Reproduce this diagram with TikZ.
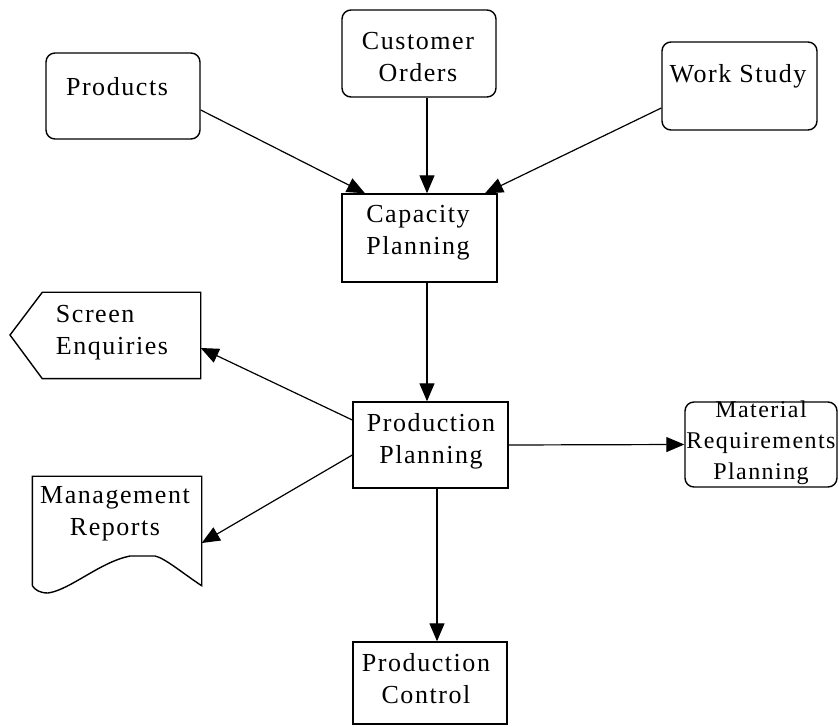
\documentclass[tikz,border=0pt]{standalone}
\usepackage{fontspec}
\setmainfont[LetterSpace=6]{Liberation Serif}
\usetikzlibrary{arrows.meta}
\begin{document}
\begin{tikzpicture}[x=1pt,y=-1pt,
  line width=1.4pt,
  txt/.style={font=\fontsize{26}{32}\selectfont, align=center, inner sep=0pt},
  rbox/.style={draw, rounded corners=9pt, inner sep=0pt},
  sbox/.style={draw, inner sep=0pt},
  arr/.style={-{Triangle[length=18pt,width=15pt]}, line width=1.2pt}]
\useasboundingbox (0,0) rectangle (839,727);
% boxes
\node[rbox, minimum width=154pt, minimum height=87pt] (co) at (419,53.5) {};
\node[txt] at (418,57) {Customer\\Orders};
\node[rbox, minimum width=154pt, minimum height=86pt] (prod) at (123,96) {};
\node[txt] at (117,87) {Products};
\node[rbox, minimum width=155pt, minimum height=88pt] (ws) at (739.5,86) {};
\node[txt] at (738,76) {Work Study};
\node[sbox, minimum width=155pt, minimum height=88pt] (cap) at (419.5,238) {};
\node[txt] at (418,233) {Capacity\\Planning};
\node[sbox, minimum width=155pt, minimum height=86pt] (pp) at (430.5,445) {};
\node[txt] at (431,441) {Production\\Planning};
\node[rbox, minimum width=152pt, minimum height=85pt] (mrp) at (761,444.5) {};
\node[txt, font=\fontsize{24}{31}\selectfont] at (761,443) {Material\\Requirements\\Planning};
\node[sbox, minimum width=154pt, minimum height=82pt] (pc) at (430,683) {};
\node[txt] at (426,679) {Production\\Control};
% screen enquiries
\node[inner sep=0pt, minimum width=157pt, minimum height=85pt] (se) at (121.5,335.5) {};
\coordinate (setip) at (10,335);
\draw (se.north west) -- (se.north east) -- (se.south east) -- (se.south west) -- (setip) -- cycle;
\node[txt, align=left] at (112,333) {Screen\\Enquiries};
% management reports
\node[inner sep=0pt, minimum width=168pt, minimum height=108pt] (mr) at (117,531) {};
\draw (mr.south west) -- (mr.north west) -- (mr.north east) -- (mr.south east)
  .. controls (185,575) and (165,558) .. (155,556) -- (130,556)
  .. controls (100,562) and (70,590) .. (48,593)
  .. controls (40,593) and (35,590) .. (mr.south west);
\node[txt] at (115,514) {Management\\Reports};
% connectors
\draw[arr] ([xshift=8pt]co.south) -- ([xshift=7.5pt]cap.north);
\draw[arr] ([yshift=-14pt]prod.east) -- ([xshift=-54.5pt]cap.north);
\draw[arr] ([yshift=-22pt]ws.west) -- ([xshift=65.5pt]cap.north);
\draw[arr] ([xshift=7.5pt]cap.south) -- ([xshift=-3.5pt]pp.north);
\draw[arr] ([yshift=25pt]pp.west) -- ([yshift=-12.5pt]se.east);
\draw[arr] ([yshift=-10pt]pp.west) -- ([yshift=-12pt]mr.east);
\draw[arr] (pp.east) -- (mrp.west);
\draw[arr] ([xshift=6.5pt]pp.south) -- ([xshift=7pt]pc.north);
\end{tikzpicture}
\end{document}
